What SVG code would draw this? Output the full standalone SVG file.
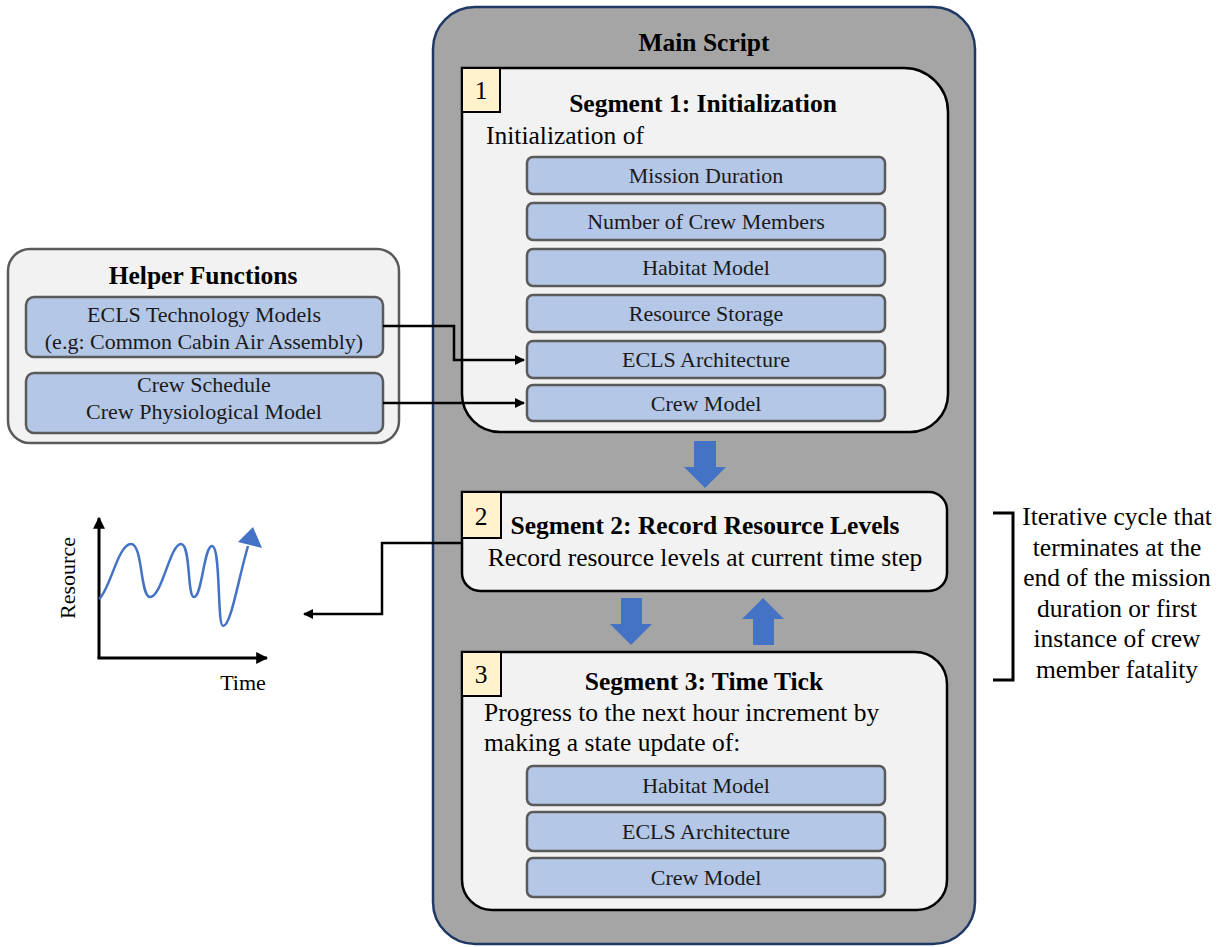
<svg xmlns="http://www.w3.org/2000/svg" width="1225" height="947" viewBox="0 0 1225 947">
  <defs>
    <style>
      text { font-family: "Liberation Serif", "Times New Roman", serif; fill: #000; }
      .title { font-size: 25.5px; font-weight: bold; text-anchor: middle; }
      .body { font-size: 25.5px; }
      .num { font-size: 25.5px; text-anchor: middle; }
      .lbl { font-size: 22px; text-anchor: middle; fill: #1a1a1a; }
      .seg { fill: #f2f2f2; stroke: #000; stroke-width: 2.5; }
      .numbox { fill: #fff2cc; stroke: #000; stroke-width: 2; }
      .item { fill: #b4c7e7; stroke: #5a5a5a; stroke-width: 2.5; }
      .wire { fill: none; stroke: #000; stroke-width: 2.5; }
      .flow { fill: #4472c4; }
      .note { font-size: 25.5px; text-anchor: middle; }
    </style>
    <marker id="tip" viewBox="0 0 10 10" refX="9" refY="5" markerWidth="4" markerHeight="4" orient="auto" markerUnits="strokeWidth">
      <path d="M0,0 L10,5 L0,10 Z" fill="#000"/>
    </marker>
  </defs>

  <rect width="1225" height="947" fill="#fff"/>

  <!-- Main script container -->
  <g id="main-script">
    <rect x="433" y="7" width="542" height="937" rx="42" fill="#a5a5a5" stroke="#1f3864" stroke-width="2.5"/>
    <text class="title" x="704" y="51">Main Script</text>
  </g>

  <!-- Segment 1 -->
  <g id="segment-1">
    <path class="seg" d="M462,68 H904 A44,44 0 0 1 948,112 V394 A38,38 0 0 1 910,432 H500 A38,38 0 0 1 462,394 Z"/>
    <rect class="numbox" x="462" y="68" width="38" height="44"/>
    <text class="num" x="481" y="99">1</text>
    <text class="title" x="703" y="112">Segment 1: Initialization</text>
    <text class="body" x="486" y="144">Initialization of</text>
    <g id="s1-mission-duration">
      <rect class="item" x="527" y="157" width="358" height="37" rx="6"/>
      <text class="lbl" x="706" y="183">Mission Duration</text>
    </g>
    <g id="s1-crew-members">
      <rect class="item" x="527" y="203" width="358" height="37" rx="6"/>
      <text class="lbl" x="706" y="229">Number of Crew Members</text>
    </g>
    <g id="s1-habitat">
      <rect class="item" x="527" y="249" width="358" height="37" rx="6"/>
      <text class="lbl" x="706" y="275">Habitat Model</text>
    </g>
    <g id="s1-resource-storage">
      <rect class="item" x="527" y="295" width="358" height="37" rx="6"/>
      <text class="lbl" x="706" y="321">Resource Storage</text>
    </g>
    <g id="s1-ecls">
      <rect class="item" x="527" y="341" width="358" height="37" rx="6"/>
      <text class="lbl" x="706" y="367">ECLS Architecture</text>
    </g>
    <g id="s1-crew-model">
      <rect class="item" x="527" y="385" width="358" height="36" rx="6"/>
      <text class="lbl" x="706" y="411">Crew Model</text>
    </g>
  </g>

  <!-- Segment 2 -->
  <g id="segment-2">
    <path class="seg" d="M462,492 H929 A18,18 0 0 1 947,510 V573 A18,18 0 0 1 929,591 H480 A18,18 0 0 1 462,573 Z"/>
    <rect class="numbox" x="462" y="492" width="39" height="46"/>
    <text class="num" x="481" y="525">2</text>
    <text class="title" x="705" y="534">Segment 2: Record Resource Levels</text>
    <text class="body" x="705" y="566" text-anchor="middle">Record resource levels at current time step</text>
  </g>

  <!-- Segment 3 -->
  <g id="segment-3">
    <path class="seg" d="M462,652 H915 A32,32 0 0 1 947,684 V880 A30,30 0 0 1 917,910 H492 A30,30 0 0 1 462,880 Z"/>
    <rect class="numbox" x="462" y="652" width="39" height="44"/>
    <text class="num" x="481" y="683">3</text>
    <text class="title" x="704" y="690">Segment 3: Time Tick</text>
    <text class="body" x="484" y="721">Progress to the next hour increment by</text>
    <text class="body" x="484" y="751">making a state update of:</text>
    <g id="s3-habitat">
      <rect class="item" x="527" y="766" width="358" height="39" rx="6"/>
      <text class="lbl" x="706" y="793">Habitat Model</text>
    </g>
    <g id="s3-ecls">
      <rect class="item" x="527" y="812" width="358" height="39" rx="6"/>
      <text class="lbl" x="706" y="839">ECLS Architecture</text>
    </g>
    <g id="s3-crew-model">
      <rect class="item" x="527" y="858" width="358" height="39" rx="6"/>
      <text class="lbl" x="706" y="885">Crew Model</text>
    </g>
  </g>

  <!-- Flow arrows between segments -->
  <g id="flow-arrows">
    <path class="flow" d="M694,441 H716 V467 H726 L705,488 L684,467 H694 Z"/>
    <path class="flow" d="M621,598 H642 V624 H652 L631,645 L610,624 H621 Z"/>
    <path class="flow" d="M753,645 H774 V619 H784 L763,598 L742,619 H753 Z"/>
  </g>

  <!-- Helper functions -->
  <g id="helper-functions">
    <rect x="8" y="249" width="391" height="194" rx="22" fill="#f2f2f2" stroke="#5a5a5a" stroke-width="2.5"/>
    <text class="title" x="203" y="284">Helper Functions</text>
    <g id="helper-ecls">
      <rect class="item" x="26" y="297" width="357" height="60" rx="8"/>
      <text class="lbl" x="204" y="322">ECLS Technology Models</text>
      <text class="lbl" x="204" y="349">(e.g: Common Cabin Air Assembly)</text>
    </g>
    <g id="helper-crew">
      <rect class="item" x="26" y="373" width="357" height="60" rx="8"/>
      <text class="lbl" x="204" y="392">Crew Schedule</text>
      <text class="lbl" x="204" y="419">Crew Physiological Model</text>
    </g>
  </g>

  <!-- Connectors -->
  <g id="connectors">
    <path class="wire" d="M383,326 H454 V360 H524" marker-end="url(#tip)"/>
    <path class="wire" d="M383,403 H524" marker-end="url(#tip)"/>
    <path class="wire" d="M462,543 H382 V614 H304" marker-end="url(#tip)"/>
  </g>

  <!-- Resource over time sketch -->
  <g id="resource-chart">
    <path d="M99,658 V518" fill="none" stroke="#000" stroke-width="3" marker-end="url(#tip)"/>
    <path d="M97.5,658 H267" fill="none" stroke="#000" stroke-width="3" marker-end="url(#tip)"/>
    <path d="M99,599 C110,590 118,544 131,544 C143,544 140,597 150,597 C162,597 170,544 181,544 C191,544 187,597 194,597 C202,597 204,546 212,546 C221,546 217,626 223,626 C231,626 238,580 248,546" fill="none" stroke="#4472c4" stroke-width="2.5"/>
    <path class="flow" d="M238,542 L253,527 L262,548 Z"/>
    <text x="0" y="0" font-size="22" text-anchor="middle" transform="translate(75,578) rotate(-90)">Resource</text>
    <text x="243" y="690" font-size="22" text-anchor="middle">Time</text>
  </g>

  <!-- Loop note -->
  <g id="loop-note">
    <path d="M993,513 H1013 V680 H993" fill="none" stroke="#000" stroke-width="3"/>
    <text class="note" x="1117" y="525">Iterative cycle that</text>
    <text class="note" x="1117" y="556">terminates at the</text>
    <text class="note" x="1117" y="586">end of the mission</text>
    <text class="note" x="1117" y="617">duration or first</text>
    <text class="note" x="1117" y="647">instance of crew</text>
    <text class="note" x="1117" y="678">member fatality</text>
  </g>
</svg>
